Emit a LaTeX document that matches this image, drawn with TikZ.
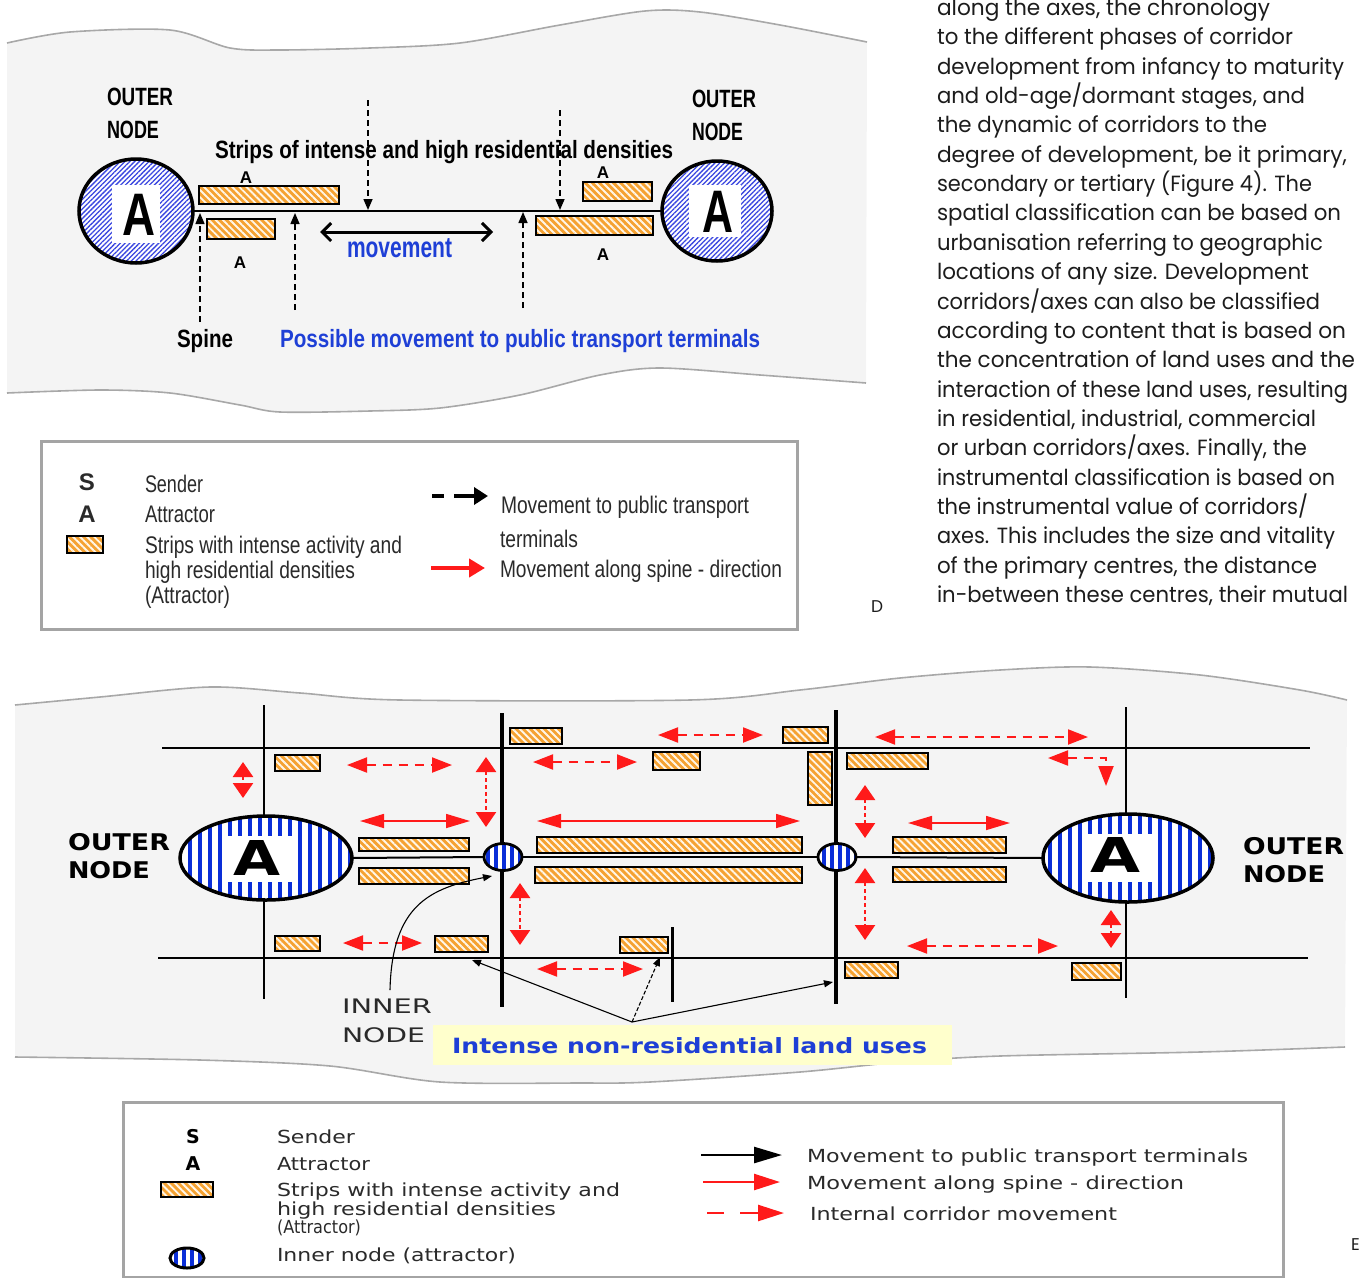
\documentclass[tikz,border=0pt]{standalone}
\usepackage{graphicx}
\usepackage{fontspec}
\setmainfont{Liberation Sans}
\newfontfamily\lib{Liberation Sans}
\newfontfamily\dvs{DejaVu Sans}
\newfontfamily\pop{Poppins}
\usetikzlibrary{arrows.meta,patterns.meta,shapes.geometric}
\definecolor{paper}{HTML}{F4F4F4}
\definecolor{paperedge}{HTML}{A8A8A8}
\definecolor{stripo}{HTML}{F5A232}
\definecolor{stripw}{HTML}{FFF6E8}
\definecolor{hatchblue}{HTML}{3A46E0}
\definecolor{stripeblue}{HTML}{0A2ED8}
\definecolor{txtblue}{HTML}{1E3FD6}
\definecolor{arrred}{HTML}{FF1A1A}
\definecolor{yel}{HTML}{FFFFCC}
\definecolor{bodytxt}{HTML}{1C1C1C}
\definecolor{legtxt}{HTML}{2A2A2A}
\definecolor{legframe}{HTML}{A4A4A4}
\newcommand\fsz[1]{\fontsize{#1}{#1}\selectfont}
\newcommand\fitw[2]{\resizebox{#1}{\height}{#2}}
\tikzset{
  t/.style={inner sep=0pt,outer sep=0pt,anchor=base west},
  tc/.style={inner sep=0pt,outer sep=0pt,anchor=base},
  strip/.style={draw=black,line width=2.6pt,preaction={fill=stripo},pattern={Lines[angle=-45,distance=5pt,line width=1.9pt]},pattern color=stripw,inner sep=0pt,outer sep=0pt},
  hatchnode/.style={ellipse,draw=black,line width=3.5pt,inner sep=0pt,outer sep=0pt,preaction={fill=white},pattern={Lines[angle=45,distance=3.4pt,line width=1.3pt]},pattern color=hatchblue},
  stripenode/.style={ellipse,draw=black,line width=3.5pt,inner sep=0pt,outer sep=0pt,preaction={fill=white},pattern={Lines[angle=90,distance=10pt,line width=4.5pt]},pattern color=stripeblue},
  innode/.style={ellipse,draw=black,line width=2.8pt,inner sep=0pt,outer sep=0pt,preaction={fill=white},pattern={Lines[angle=90,distance=8pt,line width=3.2pt]},pattern color=stripeblue},
  pta/.style={draw=black,line width=1.5pt,dash pattern=on 6pt off 4pt,-{Triangle[length=11pt,width=9pt]}},
  mova/.style={draw=black,line width=3pt,{Straight Barb[length=9pt,width=18pt]}-{Straight Barb[length=9pt,width=18pt]}},
  icah/.style={draw=arrred,line width=2pt,dash pattern=on 9pt off 7pt,{Triangle[length=20pt,width=15pt]}-{Triangle[length=20pt,width=15pt]}},
  icav/.style={draw=arrred,line width=2.5pt,dash pattern=on 4pt off 3pt,{Triangle[length=15pt,width=20pt]}-{Triangle[length=15pt,width=20pt]}},
  spa/.style={draw=arrred,line width=1.6pt,{Triangle[length=24pt,width=14pt]}-{Triangle[length=24pt,width=14pt]}},
  pt/.style={draw=black,line width=1.1pt,-{Triangle[length=9pt,width=7pt]}},
  legbox/.style={draw=legframe,line width=3pt,fill=white,inner sep=0pt},
  edge/.style={draw=paperedge,line width=1.6pt}
}
\newcommand\stripbox[5]{\node[strip,minimum width={(#4)-(#2)},minimum height={(#5)-(#3)}] (#1) at ({((#2)+(#4))/2},{((#3)+(#5))/2}) {};}
\newcommand\pline[3]{\node[t,text=bodytxt] (p#1) at (937,{15.5+(#1-1)*29.35}) {\fitw{#2pt}{\pop\fsz{22}#3}};}
\begin{document}
\begin{tikzpicture}[x=1pt,y=-1pt]
\useasboundingbox (0,0) rectangle (1359,1277);
% ---------------- top paper
\fill[paper] plot[smooth,tension=0.5] coordinates {(7,43) (70,32) (170,30) (230,48) (280,50) (370,48) (460,43) (560,25) (645,11) (700,12) (780,25) (867,42)}
  -- (866,383) -- plot[smooth,tension=0.5] coordinates {(866,383) (760,375) (660,368) (600,375) (520,395) (440,408) (370,411) (280,412) (240,405) (170,393) (100,390) (7,393)} -- cycle;
\draw[edge] plot[smooth,tension=0.5] coordinates {(7,43) (70,32) (170,30) (230,48) (280,50) (370,48) (460,43) (560,25) (645,11) (700,12) (780,25) (867,42)};
\draw[edge] plot[smooth,tension=0.5] coordinates {(866,383) (760,375) (660,368) (600,375) (520,395) (440,408) (370,411) (280,412) (240,405) (170,393) (100,390) (7,393)};
% top strips
\stripbox{ts1}{199}{186}{339}{204}
\stripbox{ts2}{207}{219}{275}{239}
\stripbox{ts3}{583}{182}{652}{201}
\stripbox{ts4}{536}{216}{653}{235}
% outer nodes top
\node[hatchnode,minimum width=114,minimum height=104] (onl) at (136,211) {};
\node[fill=white,inner sep=0pt,minimum width=48,minimum height=58] (onlw) at (136,214) {};
\node[tc] (onla) at (138.5,235) {\fitw{33pt}{\lib\bfseries\fsz{60}A}};
\node[hatchnode,minimum width=110,minimum height=100] (onr) at (717,211) {};
\node[fill=white,inner sep=0pt,minimum width=52,minimum height=52] (onrw) at (715,211) {};
\node[tc] (onra) at (717.5,232) {\fitw{31pt}{\lib\bfseries\fsz{60}A}};
% spine
\draw[line width=2pt] (onl.east) -- (onr.west);
% dashed arrows to spine
\coordinate (u1) at (368,100); \coordinate (u1e) at (368,210);
\coordinate (u2) at (560,110); \coordinate (u2e) at (560,210);
\coordinate (b1) at (200,322); \coordinate (b1e) at (200,213);
\coordinate (b2) at (295,310); \coordinate (b2e) at (295,213);
\coordinate (b3) at (523,308); \coordinate (b3e) at (523,212);
\draw[pta] (u1) -- (u1e);
\draw[pta] (u2) -- (u2e);
\draw[pta] (b1) -- (b1e);
\draw[pta] (b2) -- (b2e);
\draw[pta] (b3) -- (b3e);
\coordinate (mv1) at (320,232); \coordinate (mv2) at (493,232);
\draw[mova] (mv1) -- (mv2);
% top texts
\node[t] (ol1) at (107,105) {\fitw{66pt}{\lib\bfseries\fsz{25}OUTER}};
\node[t] (ol2) at (107,138) {\fitw{52pt}{\lib\bfseries\fsz{25}NODE}};
\node[t] (or1) at (692,107) {\fitw{64pt}{\lib\bfseries\fsz{25}OUTER}};
\node[t] (or2) at (692,140) {\fitw{51pt}{\lib\bfseries\fsz{25}NODE}};
\node[t] (striplab) at (215,158) {\fitw{458pt}{\lib\bfseries\fsz{25}Strips of intense and high residential densities}};
\node[t,text=txtblue] (movlab) at (347,257) {\fitw{105pt}{\lib\bfseries\fsz{29}movement}};
\node[t] (spinelab) at (177,347) {\fitw{56pt}{\lib\bfseries\fsz{25}Spine}};
\node[t,text=txtblue] (posslab) at (280,347) {\fitw{480pt}{\lib\bfseries\fsz{25}Possible movement to public transport terminals}};
\node[tc] (a1) at (246,183) {\lib\bfseries\fsz{17}A};
\node[tc] (a2) at (240,268) {\lib\bfseries\fsz{17}A};
\node[tc] (a3) at (603,178) {\lib\bfseries\fsz{17}A};
\node[tc] (a4) at (603,260) {\lib\bfseries\fsz{17}A};
% ---------------- top legend
\node[legbox,minimum width=756,minimum height=188] (leg1) at (419,535) {};
\node[tc,text=legtxt] (l1s) at (87,490) {\lib\bfseries\fsz{24}S};
\node[tc,text=legtxt] (l1a) at (87,522) {\lib\bfseries\fsz{24}A};
\stripbox{l1strip}{67}{536}{103}{553}
\node[t,text=legtxt] (l1t1) at (145,492) {\fitw{58pt}{\lib\fsz{24}Sender}};
\node[t,text=legtxt] (l1t2) at (145,522) {\fitw{70pt}{\lib\fsz{24}Attractor}};
\node[t,text=legtxt] (l1t3) at (145,553) {\fitw{257pt}{\lib\fsz{24}Strips with intense activity and}};
\node[t,text=legtxt] (l1t4) at (145,578) {\fitw{210pt}{\lib\fsz{24}high residential densities}};
\node[t,text=legtxt] (l1t5) at (145,603) {\fitw{85pt}{\lib\fsz{24}(Attractor)}};
\coordinate (k1a) at (432,496); \coordinate (k1b) at (444,496);
\coordinate (k1c) at (454,496); \coordinate (k1d) at (488,496);
\draw[line width=4pt] (k1a) -- (k1b);
\draw[line width=4pt,-{Triangle[length=14pt,width=17pt]}] (k1c) -- (k1d);
\coordinate (k2a) at (431,568); \coordinate (k2b) at (485,568);
\draw[arrred,line width=4pt,-{Triangle[length=16pt,width=18pt]}] (k2a) -- (k2b);
\node[t,text=legtxt] (l1t6) at (501,513) {\fitw{248pt}{\lib\fsz{24}Movement to public transport}};
\node[t,text=legtxt] (l1t7) at (500,547) {\fitw{78pt}{\lib\fsz{24}terminals}};
\node[t,text=legtxt] (l1t8) at (500,577) {\fitw{282pt}{\lib\fsz{24}Movement along spine - direction}};
\node[t,text=bodytxt] (dlab) at (871,612) {\pop\fsz{17}D};
% ---------------- right paragraph
\pline{1}{333}{along the axes, the chronology}
\pline{2}{356}{to the different phases of corridor}
\pline{3}{407}{development from infancy to maturity}
\pline{4}{368}{and old-age/dormant stages, and}
\pline{5}{330}{the dynamic of corridors to the}
\pline{6}{410}{degree of development, be it primary,}
\pline{7}{375}{secondary or tertiary (Figure 4). The}
\pline{8}{404}{spatial classification can be based on}
\pline{9}{386}{urbanisation referring to geographic}
\pline{10}{372}{locations of any size. Development}
\pline{11}{383}{corridors/axes can also be classified}
\pline{12}{409}{according to content that is based on}
\pline{13}{418}{the concentration of land uses and the}
\pline{14}{411}{interaction of these land uses, resulting}
\pline{15}{379}{in residential, industrial, commercial}
\pline{16}{370}{or urban corridors/axes. Finally, the}
\pline{17}{398}{instrumental classification is based on}
\pline{18}{371}{the instrumental value of corridors/}
\pline{19}{398}{axes. This includes the size and vitality}
\pline{20}{380}{of the primary centres, the distance}
\pline{21}{411}{in-between these centres, their mutual}
% ---------------- bottom paper
\fill[paper] plot[smooth,tension=0.5] coordinates {(15,705) (100,697) (210,687) (300,693) (400,700) (690,700) (800,690) (900,678) (1000,670) (1090,667) (1200,675) (1300,690) (1347,700)}
  -- (1345,1047) -- plot[smooth,tension=0.5] coordinates {(1345,1047) (1200,1052) (1000,1056) (900,1062) (800,1072) (650,1082) (580,1083) (440,1082) (330,1066) (200,1060) (15,1057)} -- cycle;
\draw[edge] plot[smooth,tension=0.5] coordinates {(15,705) (100,697) (210,687) (300,693) (400,700) (690,700) (800,690) (900,678) (1000,670) (1090,667) (1200,675) (1300,690) (1347,700)};
\draw[edge] plot[smooth,tension=0.5] coordinates {(1345,1047) (1200,1052) (1000,1056) (900,1062) (800,1072) (650,1082) (580,1083) (440,1082) (330,1066) (200,1060) (15,1057)};
% grid
\draw[line width=1.6pt] (162,748) -- (1310,748);
\draw[line width=1.6pt] (158,958) -- (1308,958);
\draw[line width=1.6pt] (264,705) -- (264,999);
\draw[line width=1.6pt] (1126,707) -- (1126,998);
\draw[line width=4pt] (502,713) -- (502,1007);
\draw[line width=4pt] (836,710) -- (836,1004);
\draw[line width=3pt] (672,927) -- (672,1002);
% strips
\stripbox{s1}{275}{755}{320}{771}
\stripbox{s2}{275}{936}{320}{951}
\stripbox{s3}{359}{838}{469}{851}
\stripbox{s4}{359}{868}{469}{884}
\stripbox{s5}{435}{936}{488}{952}
\stripbox{s6}{510}{728}{562}{744}
\stripbox{s7}{653}{752}{700}{770}
\stripbox{s8}{783}{727}{828}{743}
\stripbox{s9}{808}{752}{832}{805}
\stripbox{s10}{847}{753}{928}{769}
\stripbox{s11}{537}{837}{802}{853}
\stripbox{s12}{535}{867}{802}{883}
\stripbox{s13}{620}{937}{668}{953}
\stripbox{s14}{845}{962}{898}{978}
\stripbox{s15}{893}{837}{1006}{853}
\stripbox{s16}{893}{867}{1006}{882}
\stripbox{s17}{1072}{963}{1121}{980}
% nodes
\node[stripenode,minimum width=172,minimum height=84] (bnl) at (266,858) {};
\node[fill=white,inner sep=0pt,minimum width=66,minimum height=46] (bnlw) at (260,859) {};
\node[tc] (bnla) at (256.5,875) {\fitw{47pt}{\dvs\bfseries\fsz{48}A}};
\node[stripenode,minimum width=170,minimum height=88] (bnr) at (1128,858) {};
\node[fill=white,inner sep=0pt,minimum width=68,minimum height=48] (bnrw) at (1120,858) {};
\node[tc] (bnra) at (1115,872) {\fitw{50pt}{\dvs\bfseries\fsz{48}A}};
\node[innode,minimum width=38,minimum height=27] (in1) at (503,857) {};
\node[innode,minimum width=38,minimum height=27] (in2) at (837,857) {};
\draw[line width=2pt] (bnl.east) -- (in1.west);
\draw[line width=2pt] (in1.east) -- (in2.west);
\draw[line width=2pt] (in2.east) -- (bnr.west);
% red arrows
\draw[icav] (243,762) -- (243,798);
\draw[icah] (347,765) -- (452,765);
\draw[icah] (343,943) -- (422,943);
\draw[icav] (486,757) -- (486,827);
\draw[icah] (533,762) -- (637,762);
\draw[icah] (658,735) -- (763,735);
\draw[icah] (875,737) -- (1088,737);
\draw[icah] (1048,758) -- (1106,758) -- (1106,786);
\draw[icav] (865,785) -- (865,838);
\draw[icav] (865,868) -- (865,940);
\draw[icav] (520,883) -- (520,945);
\draw[icah] (537,969) -- (643,969);
\draw[icah] (907,946) -- (1058,946);
\draw[icav] (1111,910) -- (1111,948);
\draw[spa] (360,821) -- (470,821);
\draw[spa] (537,821) -- (800,821);
\draw[spa] (908,823) -- (1010,823);
% labels
\node[t] (bol1) at (68,850) {\fitw{102pt}{\dvs\bfseries\fsz{23}OUTER}};
\node[t] (bol2) at (68,878) {\fitw{82pt}{\dvs\bfseries\fsz{23}NODE}};
\node[t] (bor1) at (1243,854) {\fitw{101pt}{\dvs\bfseries\fsz{23}OUTER}};
\node[t] (bor2) at (1243,882) {\fitw{82pt}{\dvs\bfseries\fsz{23}NODE}};
\node[fill=yel,inner sep=0pt,minimum width=519,minimum height=40] (ybox) at (692.5,1045) {};
\node[t,text=txtblue] (ylab) at (452,1053) {\fitw{475pt}{\dvs\bfseries\fsz{21}Intense non-residential land uses}};
\node[t,text=legtxt] (inl1) at (342,1013) {\fitw{90pt}{\dvs\fsz{20}INNER}};
\node[t,text=legtxt] (inl2) at (342,1042) {\fitw{83pt}{\dvs\fsz{20}NODE}};
% black arrows
\coordinate (lu) at (632,1022);
\coordinate (tg1) at (472,960);
\coordinate (tg2) at (660,957);
\coordinate (tg3) at (833,982);
\draw[pt] (lu) -- (tg1);
\draw[pt,dash pattern=on 4pt off 2pt] (lu) -- (tg2);
\draw[pt] (lu) -- (tg3);
\coordinate (ic0) at (390,990);
\coordinate (ic1) at (492,876);
\draw[pt] (ic0) .. controls (392,905) and (430,888) .. (ic1);
% ---------------- bottom legend
\node[legbox,minimum width=1160,minimum height=175] (leg2) at (703,1189.5) {};
\node[tc,text=black] (l2s) at (193,1143) {\dvs\bfseries\fsz{19}S};
\node[tc,text=black] (l2a) at (193,1170) {\dvs\bfseries\fsz{19}A};
\stripbox{l2strip}{161}{1182}{213}{1197}
\node[innode,line width=3pt,minimum width=34,minimum height=20] (l2in) at (187,1258) {};
\node[t,text=legtxt] (l2t1) at (277,1143) {\fitw{78pt}{\dvs\fsz{18}Sender}};
\node[t,text=legtxt] (l2t2) at (277,1170) {\fitw{93pt}{\dvs\fsz{18}Attractor}};
\node[t,text=legtxt] (l2t3) at (277,1196) {\fitw{343pt}{\dvs\fsz{18}Strips with intense activity and}};
\node[t,text=legtxt] (l2t4) at (277,1215) {\fitw{279pt}{\dvs\fsz{18}high residential densities}};
\node[t,text=legtxt] (l2t5) at (277,1233) {\fitw{84pt}{\dvs\fsz{18}(Attractor)}};
\node[t,text=legtxt] (l2t6) at (277,1261) {\fitw{239pt}{\dvs\fsz{18}Inner node (attractor)}};
\coordinate (k3a) at (701,1155); \coordinate (k3b) at (748,1155); \coordinate (k3c) at (782,1155);
\draw[line width=2.5pt] (k3a) -- (k3b);
\draw[line width=2.5pt,-{Triangle[length=28pt,width=16pt]}] (k3b) -- (k3c);
\coordinate (k4a) at (703,1182); \coordinate (k4b) at (780,1182);
\draw[arrred,line width=2.5pt,-{Triangle[length=26pt,width=16pt]}] (k4a) -- (k4b);
\coordinate (k5a) at (707,1213); \coordinate (k5b) at (724,1213);
\coordinate (k5c) at (740,1213); \coordinate (k5d) at (784,1213);
\draw[arrred,line width=2.5pt] (k5a) -- (k5b);
\draw[arrred,line width=2.5pt,-{Triangle[length=26pt,width=16pt]}] (k5c) -- (k5d);
\node[t,text=legtxt] (l2t7) at (807,1162) {\fitw{441pt}{\dvs\fsz{18}Movement to public transport terminals}};
\node[t,text=legtxt] (l2t8) at (807,1189) {\fitw{377pt}{\dvs\fsz{18}Movement along spine - direction}};
\node[t,text=legtxt] (l2t9) at (810,1220) {\fitw{307pt}{\dvs\fsz{18}Internal corridor movement}};
\node[t,text=bodytxt] (elab) at (1351,1250) {\pop\fsz{17}E};
\end{tikzpicture}
\end{document}
